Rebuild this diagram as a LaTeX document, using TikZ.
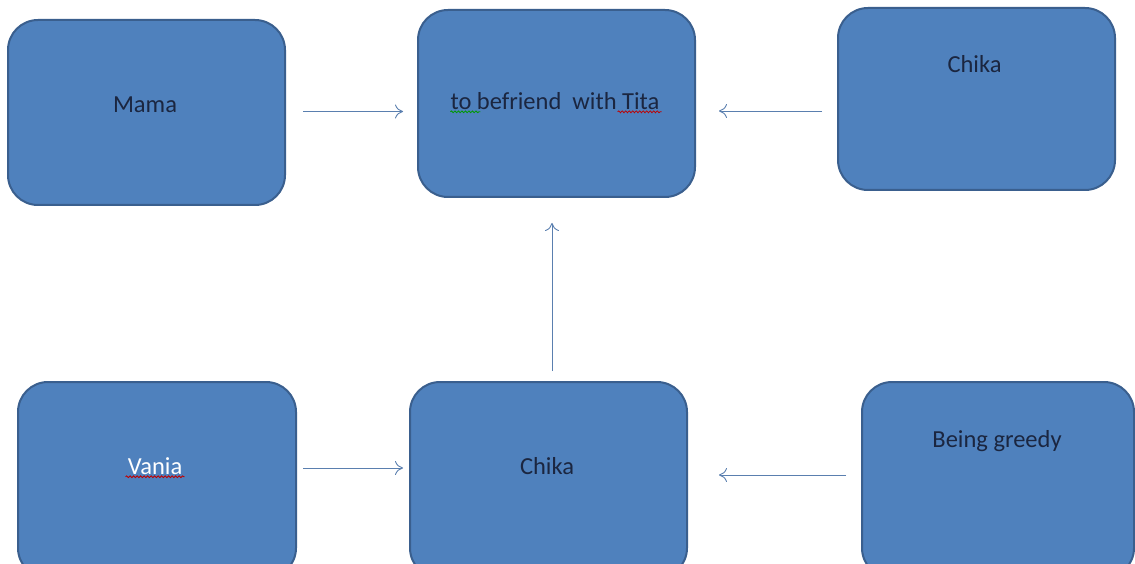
\documentclass[tikz,border=0pt]{standalone}
\usepackage{fontspec}
\setmainfont{Carlito}
\usetikzlibrary{arrows.meta,decorations.pathmorphing}
\definecolor{boxfill}{HTML}{4F81BD}
\definecolor{boxline}{HTML}{3A5F8E}
\definecolor{txt}{HTML}{1B2640}
\definecolor{arrcol}{HTML}{5A7FAF}
\tikzset{
  box/.style={draw=boxline, line width=2pt, fill=boxfill, rounded corners=30pt, inner sep=0pt},
  lbl/.style={text=txt, font=\fontsize{24.5}{28}\selectfont, inner sep=0pt, anchor=center},
  arr/.style={draw=arrcol, line width=0.9pt, -{To[length=8pt,width=14pt]}},
  squig/.style={decorate, decoration={snake, amplitude=0.9pt, segment length=3.5pt}, line width=0.8pt}
}
\begin{document}
\begin{tikzpicture}[x=1pt,y=-1pt]
\useasboundingbox (0,0) rectangle (1135,564);
\fill[white] (0,0) rectangle (1135,564);
\clip (0,0) rectangle (1135,564);
% boxes
\node[box, minimum width=277pt, minimum height=185pt] (mama) at (146.5,112.5) {};
\node[box, minimum width=277pt, minimum height=187pt] (befriend) at (556.5,103.5) {};
\node[box, minimum width=277pt, minimum height=182pt] (chikaT) at (976.5,99) {};
\node[box, minimum width=278pt, minimum height=196pt] (vania) at (157,480) {};
\node[box, minimum width=277pt, minimum height=196pt] (chikaB) at (548.5,480) {};
\node[box, minimum width=272pt, minimum height=196pt] (greedy) at (998,480) {};
% labels
\node[lbl] (tmama) at (145,105) {Mama};
\node[lbl] (tbef) at (555,101) {to befriend\ \ with Tita};
\node[lbl] (tchikaT) at (974.5,64) {Chika};
\node[lbl, text=white] (tvania) at (155,466) {Vania};
\node[lbl] (tchikaB) at (547,466) {Chika};
\node[lbl] (tgreedy) at (997,441) {Being greedy};
% spell-check squiggles
\draw[squig, draw=green!60!black] ([shift={(0,2)}]tbef.south west) -- ++(30,0);
\draw[squig, draw=red!75!black] ([shift={(-42,2)}]tbef.south east) -- ++(44,0);
\draw[squig, draw=red!75!black] ([shift={(-2,2)}]tvania.south west) -- ++(59,0);
% connector end points
\coordinate (a1) at ([shift={(17,-1)}]mama.east);
\coordinate (a2) at ([shift={(-15,12)}]chikaT.west);
\coordinate (a3) at ([shift={(3.5,-10)}]chikaB.north);
\coordinate (a4) at ([shift={(6,-12)}]vania.east);
\coordinate (a5) at ([shift={(-15,-5)}]greedy.west);
\coordinate (b1) at ([shift={(-14,0)}]befriend.west |- a1);
\coordinate (b2) at ([shift={(23,0)}]befriend.east |- a2);
\coordinate (b3) at ([shift={(0,25)}]befriend.south -| a3);
\coordinate (b4) at ([shift={(-6,0)}]chikaB.west |- a4);
\coordinate (b5) at ([shift={(31,0)}]chikaB.east |- a5);
% connectors
\draw[arr] (a1) -- (b1);
\draw[arr] (a2) -- (b2);
\draw[arr] (a3) -- (b3);
\draw[arr] (a4) -- (b4);
\draw[arr] (a5) -- (b5);
\end{tikzpicture}
\end{document}
